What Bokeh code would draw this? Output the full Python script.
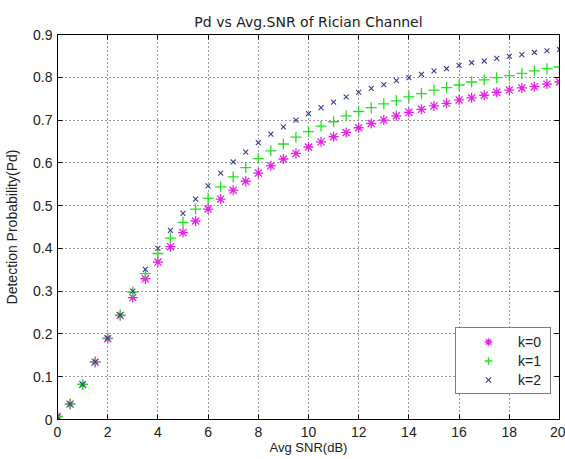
from bokeh.plotting import figure
from bokeh.models import LinearAxis, FixedTicker, Legend, LegendItem, Range1d
from bokeh.embed import file_html
from bokeh.resources import INLINE

snr_db = [0, 0.5, 1, 1.5, 2, 2.5, 3, 3.5, 4, 4.5, 5, 5.5, 6, 6.5, 7, 7.5, 8, 8.5, 9, 9.5,
          10, 10.5, 11, 11.5, 12, 12.5, 13, 13.5, 14, 14.5, 15, 15.5, 16, 16.5, 17, 17.5,
          18, 18.5, 19, 19.5, 20]

pd_k0 = [0.007, 0.036, 0.082, 0.134, 0.189, 0.243, 0.285, 0.329, 0.368, 0.404, 0.437,
         0.464, 0.492, 0.515, 0.536, 0.557, 0.576, 0.593, 0.609, 0.622, 0.637, 0.649,
         0.661, 0.671, 0.682, 0.692, 0.700, 0.710, 0.718, 0.725, 0.733, 0.739, 0.747,
         0.752, 0.758, 0.765, 0.770, 0.775, 0.778, 0.784, 0.789]

pd_k1 = [0.007, 0.036, 0.082, 0.135, 0.190, 0.244, 0.298, 0.341, 0.388, 0.424, 0.461,
         0.492, 0.517, 0.544, 0.567, 0.589, 0.610, 0.628, 0.644, 0.660, 0.673, 0.686,
         0.696, 0.710, 0.720, 0.729, 0.738, 0.745, 0.754, 0.762, 0.770, 0.776, 0.782,
         0.789, 0.794, 0.799, 0.804, 0.809, 0.815, 0.820, 0.824]

pd_k2 = [0.007, 0.036, 0.082, 0.135, 0.190, 0.244, 0.300, 0.351, 0.400, 0.442, 0.482,
         0.515, 0.546, 0.576, 0.602, 0.625, 0.647, 0.667, 0.684, 0.700, 0.715, 0.729,
         0.742, 0.754, 0.765, 0.774, 0.783, 0.792, 0.799, 0.807, 0.815, 0.820, 0.828,
         0.834, 0.838, 0.844, 0.849, 0.853, 0.858, 0.862, 0.865]

x_ticks = [0, 2, 4, 6, 8, 10, 12, 14, 16, 18, 20]
y_ticks = [0, 0.1, 0.2, 0.3, 0.4, 0.5, 0.6, 0.7, 0.8, 0.9]
y_tick_labels = ["0", "0.1", "0.2", "0.3", "0.4", "0.5", "0.6", "0.7", "0.8", "0.9"]
series_labels = ["k=0", "k=1", "k=2"]

FONT = "Liberation Sans"

p = figure(width=565, height=459, output_backend="svg", toolbar_location=None,
           x_range=Range1d(0, 20), y_range=Range1d(0, 0.9),
           min_border_left=57, min_border_right=6, min_border_top=34, min_border_bottom=40,
           title="Pd vs Avg.SNR of Rician Channel")
p.title.align = "center"
p.title.text_font = "DejaVu Sans"
p.title.text_font_size = "14px"
p.title.text_font_style = "normal"
p.title.text_color = "#202020"

p.background_fill_color = "white"
p.border_fill_color = "white"
p.outline_line_color = "black"
p.outline_line_width = 1

# grid
for g in (p.xgrid, p.ygrid):
    g.grid_line_color = "black"
    g.grid_line_dash = "1 3"
    g.grid_line_alpha = 0.8
p.xgrid.ticker = FixedTicker(ticks=x_ticks)
p.ygrid.ticker = FixedTicker(ticks=y_ticks)

def style_axis(ax):
    ax.axis_line_color = "black"
    ax.major_tick_in = 5
    ax.major_tick_out = 0
    ax.minor_tick_line_color = None
    ax.major_tick_line_color = "black"
    ax.major_label_text_font = FONT
    ax.major_label_text_font_size = "14px"
    ax.major_label_text_color = "#202020"
    ax.axis_label_text_font = FONT
    ax.axis_label_text_font_size = "13px"
    ax.axis_label_text_font_style = "normal"
    ax.axis_label_text_color = "#202020"

xa = p.xaxis[0]
ya = p.yaxis[0]
xa.ticker = FixedTicker(ticks=x_ticks)
ya.ticker = FixedTicker(ticks=y_ticks)
ya.major_label_overrides = {t: l for t, l in zip(y_ticks, y_tick_labels)}
xa.axis_label = "Avg SNR(dB)"
ya.axis_label = "Detection Probability(Pd)"
style_axis(xa)
style_axis(ya)
ya.axis_label_text_font_size = "14px"
xa.major_label_standoff = 7
ya.major_label_standoff = 5
xa.axis_label_standoff = 0
ya.axis_label_standoff = 10

# inward ticks on the top and right edges (MATLAB box style), no labels
top = LinearAxis(ticker=FixedTicker(ticks=x_ticks))
right = LinearAxis(ticker=FixedTicker(ticks=y_ticks))
for ax in (top, right):
    style_axis(ax)
    ax.major_label_standoff = 0
top.major_label_overrides = {t: "" for t in x_ticks}
right.major_label_overrides = {t: "" for t in y_ticks}
p.add_layout(top, "above")
p.add_layout(right, "right")

r0 = p.scatter(snr_db, pd_k0, marker="asterisk", size=10, line_color="#e622e6", line_width=1.3)
r1 = p.scatter(snr_db, pd_k1, marker="cross", size=11, line_color="#22e022", line_width=1.3)
r2 = p.scatter(snr_db, pd_k2, marker="x", size=7, line_color="#3c3c8c", line_width=1.1)

legend = Legend(items=[LegendItem(label=series_labels[0], renderers=[r0]),
                       LegendItem(label=series_labels[1], renderers=[r1]),
                       LegendItem(label=series_labels[2], renderers=[r2])],
                location=(398, 25))
legend.border_line_color = "black"
legend.border_line_width = 1
legend.background_fill_color = "white"
legend.background_fill_alpha = 1
legend.label_text_font = FONT
legend.label_text_font_size = "14px"
legend.label_text_color = "#202020"
legend.padding = 4
legend.spacing = 0
legend.glyph_width = 56
legend.glyph_height = 19
legend.label_height = 19
legend.label_width = 28
legend.label_standoff = 2
legend.margin = 0
p.add_layout(legend, "center")

open("out.html", "w").write(file_html(p, INLINE))
